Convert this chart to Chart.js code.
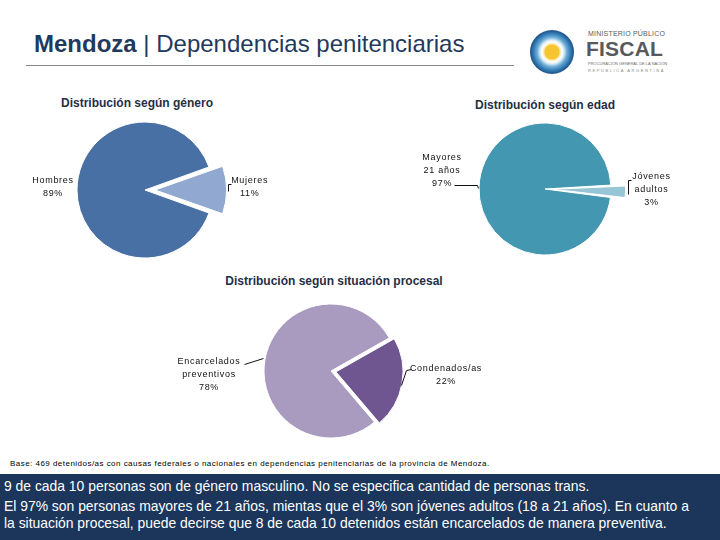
<!DOCTYPE html>
<html>
<head>
<meta charset="utf-8">
<script src="https://cdn.jsdelivr.net/npm/chart.js@4.4.0/dist/chart.umd.min.js"></script>
<style>
  body { margin: 0; width: 720px; height: 540px; position: relative; background: #fff; font-family: "Liberation Sans", Arial, sans-serif; overflow: hidden; }
  .abs { position: absolute; }
  #header { left: 34px; top: 30px; font-size: 24px; color: #1f3a5c; white-space: nowrap; }
  #rule { left: 26px; top: 65px; width: 488px; height: 1px; background: #8a8a8a; }
  .ptitle { font-size: 12px; font-weight: bold; color: #1f2f46; white-space: nowrap; transform: translateX(-50%); }
  canvas { position: absolute; }
  #note { left: 10px; top: 459px; font-size: 8px; letter-spacing: 0.47px; color: #000; white-space: nowrap; }
  #box { left: 0; top: 474px; width: 720px; height: 66px; background: #1c365b; color: #fff; font-size: 13.9px; line-height: 17.5px; padding: 4px 3px 0 4px; box-sizing: border-box; white-space: nowrap; }
  #box p { margin: 0 0 2px 0; }
  #logoCircle { left: 530px; top: 30px; width: 44px; height: 44px; border-radius: 50%;
    background: radial-gradient(circle at 50% 50%, #f6c632 0 7px, #fbe7a0 8px, #ffffff 10px, #d7eaf6 12px, #6aaad6 15px, #2e76b0 19px, #1d4f86 22px); }
  #logoText1 { left: 588px; top: 30px; font-size: 7px; color: #5a5b5d; letter-spacing: 0.2px; }
  #logoText2 { left: 586px; top: 37px; font-size: 21px; font-weight: bold; color: #58595b; letter-spacing: 0.2px; }
  #logoText3 { left: 588px; top: 61px; font-size: 4px; color: #6a6a6a; }
  #logoText4 { left: 588px; top: 68px; font-size: 4px; color: #8a8a8a; letter-spacing: 1.6px; }
</style>
</head>
<body>
<div id="header" class="abs"><b>Mendoza</b> | Dependencias penitenciarias</div>
<div id="rule" class="abs"></div>
<div id="logoCircle" class="abs"></div>
<div id="logoText1" class="abs">MINISTERIO PÚBLICO</div>
<div id="logoText2" class="abs">FISCAL</div>
<div id="logoText3" class="abs">PROCURACIÓN GENERAL DE LA NACIÓN</div>
<div id="logoText4" class="abs">REPÚBLICA ARGENTINA</div>

<div class="abs ptitle" style="left:137px; top:96px;">Distribución según género</div>
<div class="abs ptitle" style="left:545px; top:98px;">Distribución según edad</div>
<div class="abs ptitle" style="left:334px; top:274px;">Distribución según situación procesal</div>

<canvas id="genero" style="left:0px; top:100px;" width="290" height="180"></canvas>
<canvas id="edad" style="left:400px; top:99px;" width="290" height="180"></canvas>
<canvas id="procesal" style="left:161px; top:291px;" width="340" height="160"></canvas>

<div id="note" class="abs">Base: 469 detenidos/as con causas federales o nacionales en dependencias penitenciarias de la provincia de Mendoza.</div>
<div id="box" class="abs">
  <p>9 de cada 10 personas son de género masculino. No se especifica cantidad de personas trans.</p>
  <p>El 97% son personas mayores de 21 años, mientas que el 3% son jóvenes adultos (18 a 21 años). En cuanto a<br>la situación procesal, puede decirse que 8 de cada 10 detenidos están encarcelados de manera preventiva.</p>
</div>

<script>
// datos
const generoLabels = [['Hombres'], ['Mujeres']];
const generoValues = [89, 11];
const edadLabels = [['Mayores', '21 años'], ['Jóvenes', 'adultos']];
const edadValues = [97, 3];
const procesalLabels = [['Encarcelados', 'preventivos'], ['Condenados/as']];
const procesalValues = [78, 22];

// labels with leader lines, placed relative to the slice edge
const sliceLabels = {
  id: 'sliceLabels',
  afterDraw(chart, args, opts) {
    const ctx = chart.ctx;
    const meta = chart.getDatasetMeta(0);
    const values = chart.data.datasets[0].data;
    ctx.save();
    ctx.font = '9px "Liberation Sans", Arial, sans-serif';
    ctx.letterSpacing = '0.7px';
    ctx.fillStyle = '#111';
    ctx.strokeStyle = '#111';
    ctx.lineWidth = 1;
    ctx.textAlign = 'center';
    ctx.textBaseline = 'middle';
    meta.data.forEach((arc, i) => {
      const p = arc.getProps(['x', 'y', 'startAngle', 'endAngle', 'outerRadius', 'circumference'], true);
      const mid = (p.startAngle + p.endAngle) / 2;
      // chart.js moves an exploded arc by offset/4 and grows it a bit
      const shift = (arc.options.offset || 0) / 4;
      const grow = shift * (1 - Math.sin(Math.min(Math.PI, p.circumference)));
      const r = p.outerRadius + shift + grow;
      const ex = p.x + Math.cos(mid) * r;
      const ey = p.y + Math.sin(mid) * r;
      const place = opts.place[i];
      const lines = chart.data.labels[i].concat([values[i] + '%']);
      const top = ey + place.dy - (lines.length - 1) * 13 / 2;
      lines.forEach((t, k) => ctx.fillText(t, ex + place.dx, top + k * 13));
      if (place.leader) {
        ctx.beginPath();
        place.leader.forEach(([lx, ly], k) => {
          const px = Math.round(ex + lx) + 0.5, py = Math.round(ey + ly) + 0.5;
          k ? ctx.lineTo(px, py) : ctx.moveTo(px, py);
        });
        ctx.stroke();
      }
    });
    ctx.restore();
  }
};

function makePie(id, labels, values, colors, rotation, radius, offsets, place) {
  return new Chart(document.getElementById(id), {
    type: 'pie',
    data: {
      labels: labels,
      datasets: [{
        data: values,
        backgroundColor: colors,
        borderColor: '#ffffff',
        borderWidth: 1,
        offset: offsets
      }]
    },
    options: {
      responsive: false,
      animation: false,
      rotation: rotation,
      radius: radius,
      plugins: {
        legend: { display: false },
        tooltip: { enabled: false },
        sliceLabels: { place: place }
      }
    },
    plugins: [sliceLabels]
  });
}

makePie('genero', generoLabels, generoValues, ['#4870a4', '#91a8d0'], 109.8, 68, [0, 40], [
  { dx: -24, dy: -3 },
  { dx: 23, dy: -3, leader: [[1, 1], [1, -6], [4, -6]] }
]);
makePie('edad', edadLabels, edadValues, ['#4497b0', '#96c5d6'], 97.4, 66, [0, 32], [
  { dx: -37, dy: -16, leader: [[-1, 1], [-2, -2], [-25, -2]] },
  { dx: 26, dy: -2, leader: [[3, 2], [3, -12], [6, -12]] }
]);
makePie('procesal', procesalLabels, procesalValues, ['#a89bbf', '#6f5690'], 139.6, 67, [0, 20], [
  { dx: -56, dy: 15, leader: [[-2, -1], [-21, 5]] },
  { dx: 44, dy: -9, leader: [[-1, 1], [4, -14], [9, -15]] }
]);
</script>
</body>
</html>
